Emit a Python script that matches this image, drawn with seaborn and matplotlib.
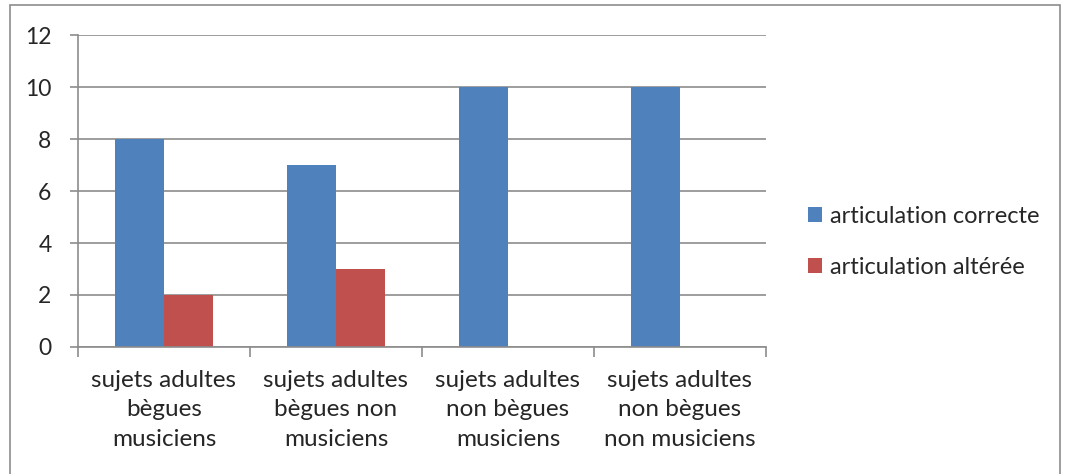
import numpy as np
import pandas as pd
import matplotlib
matplotlib.use("Agg")
import matplotlib.pyplot as plt
import seaborn as sns
from matplotlib.patches import Rectangle

categories = [
    "sujets adultes\nbègues\nmusiciens",
    "sujets adultes\nbègues non\nmusiciens",
    "sujets adultes\nnon bègues\nmusiciens",
    "sujets adultes\nnon bègues\nnon musiciens",
]
series = ["articulation correcte", "articulation altérée"]
correcte = [8, 7, 10, 10]
alteree = [2, 3, 0, 0]
colors = ["#4F81BD", "#C0504D"]

df = pd.DataFrame({
    "categorie": categories * 2,
    "serie": [series[0]] * 4 + [series[1]] * 4,
    "valeur": correcte + alteree,
})

sns.set_style("white")
plt.rcParams["font.family"] = ["Lato", "DejaVu Sans"]

fig = plt.figure(figsize=(10.67, 4.74), dpi=100)
ax = fig.add_axes([0.0731, 0.268, 0.6448, 0.658])

sns.barplot(data=df, x="categorie", y="valeur", hue="serie", order=categories,
            hue_order=series, palette=colors, width=0.57, gap=0, saturation=1,
            edgecolor="none", ax=ax)

ax.set_xlim(-0.5, 3.5)
ax.set_ylim(0, 12)
ax.set_yticks(np.arange(0, 13, 2))
ax.set_xlabel("")
ax.set_ylabel("")
ax.yaxis.grid(True, color="#8C8C8C", linewidth=1.2)
ax.set_axisbelow(True)
for s in ["top", "right"]:
    ax.spines[s].set_visible(False)
for s in ["left", "bottom"]:
    ax.spines[s].set_color("#8C8C8C")
    ax.spines[s].set_linewidth(1.2)

ax.tick_params(axis="y", left=True, length=6, width=1.2, color="#8C8C8C",
               labelsize=16.5, pad=13)
ax.set_xticks([0, 1, 2, 3])
ax.set_xticklabels(categories, fontsize=17.5, linespacing=1.5)
ax.tick_params(axis="x", bottom=False, pad=13)
# boundary ticks between categories
ax.set_xticks([-0.5, 0.5, 1.5, 2.5, 3.5], minor=True)
ax.tick_params(axis="x", which="minor", bottom=True, length=7, width=1.2,
               color="#8C8C8C", direction="out")

ax.legend(loc="center left", bbox_to_anchor=(1.061, 0.337), frameon=False,
          fontsize=17, handlelength=0.6, handleheight=0.6, borderpad=0,
          borderaxespad=0, handletextpad=0.35, labelspacing=1.25)

fig.patches.append(Rectangle((0.009, -0.01), 0.984, 1.0, transform=fig.transFigure,
                             fill=False, edgecolor="#8C8C8C", linewidth=1.2))

fig.savefig("out.png", dpi=100)
